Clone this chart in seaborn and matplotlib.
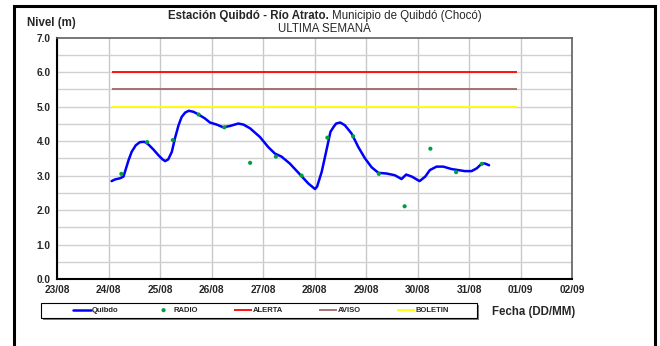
import pandas as pd
import matplotlib
matplotlib.use('Agg')
import matplotlib.pyplot as plt
import seaborn as sns
from matplotlib.patches import Rectangle

# dias contados desde 23/08 00:00
dia_quibdo = [1.06, 1.13, 1.22, 1.29, 1.33, 1.39, 1.45, 1.53, 1.61, 1.70, 1.77, 1.87,
              1.97, 2.05, 2.10, 2.16, 2.23, 2.29, 2.36, 2.42, 2.49, 2.56, 2.65, 2.74,
              2.87, 2.97, 3.10, 3.23, 3.36, 3.52, 3.62, 3.75, 3.94, 4.10, 4.23, 4.36,
              4.52, 4.72, 4.88, 5.01, 5.05, 5.14, 5.24, 5.31, 5.37, 5.42, 5.50, 5.59,
              5.72, 5.85, 5.98, 6.11, 6.24, 6.40, 6.56, 6.69, 6.78, 6.89, 7.04, 7.15,
              7.24, 7.37, 7.50, 7.66, 7.79, 7.92, 8.05, 8.15, 8.25, 8.31, 8.39]
nivel_quibdo = [2.84, 2.89, 2.92, 2.97, 3.16, 3.45, 3.69, 3.88, 3.97, 3.98, 3.91, 3.76,
                3.59, 3.47, 3.42, 3.47, 3.69, 4.08, 4.46, 4.70, 4.83, 4.88, 4.85, 4.78,
                4.66, 4.54, 4.48, 4.40, 4.44, 4.51, 4.48, 4.37, 4.12, 3.83, 3.64, 3.55,
                3.35, 3.03, 2.77, 2.61, 2.68, 3.11, 3.79, 4.27, 4.41, 4.51, 4.54, 4.46,
                4.22, 3.83, 3.50, 3.24, 3.08, 3.06, 3.01, 2.90, 3.03, 2.97, 2.84, 2.97,
                3.16, 3.26, 3.26, 3.19, 3.16, 3.13, 3.13, 3.21, 3.35, 3.35, 3.30]

dia_radio = [1.25, 1.75, 2.25, 2.75, 3.25, 3.75, 4.25, 4.75, 5.25, 5.75, 6.25, 6.75, 7.25, 7.75, 8.25]
nivel_radio = [3.05, 3.97, 4.03, 4.77, 4.40, 3.37, 3.55, 3.00, 4.10, 4.14, 3.05, 2.11, 3.78, 3.10, 3.34]

umbrales = ['ALERTA', 'AVISO', 'BOLETIN']
nivel_umbral = [6.0, 5.5, 5.0]
color_umbral = ['#FF0000', '#A06868', '#FFFF00']
umbral_desde, umbral_hasta = 1.07, 8.93

fechas = ['23/08', '24/08', '25/08', '26/08', '27/08', '28/08',
          '29/08', '30/08', '31/08', '01/09', '02/09']

sns.set_style('white')
plt.rcParams['font.family'] = ['Liberation Sans', 'DejaVu Sans']

W, H = 660, 346
fig = plt.figure(figsize=(6.6, 3.46), dpi=100)
ax = fig.add_axes([57 / W, 1 - 279 / H, (572 - 57) / W, (279 - 37.7) / H])

# cuadricula
for d in range(len(fechas)):
    ax.axvline(d, color='#C8C8C8', lw=1.0, zorder=0)
for v in [i * 0.5 for i in range(1, 14)]:
    ax.axhline(v, color='#D0D0D0', lw=1.0, zorder=0)

for nombre, nv, col in zip(umbrales, nivel_umbral, color_umbral):
    ax.hlines(nv, umbral_desde, umbral_hasta, color=col, lw=1.3, label=nombre, zorder=2)

df_q = pd.DataFrame({'dia': dia_quibdo, 'nivel': nivel_quibdo})
df_r = pd.DataFrame({'dia': dia_radio, 'nivel': nivel_radio})
sns.lineplot(data=df_q, x='dia', y='nivel', ax=ax, color='#0000FF', lw=1.8,
             label='Quibdo', zorder=3, solid_joinstyle='round', solid_capstyle='round')
sns.scatterplot(data=df_r, x='dia', y='nivel', ax=ax, color='#00A040', s=9,
                edgecolor='none', label='RADIO', zorder=4)

ax.set_xlim(0, 10)
ax.set_ylim(0, 7)
ax.set_xticks(range(len(fechas)))
ax.set_xticklabels(fechas)
ax.set_yticks(range(8))
ax.set_yticklabels([f'{v:.1f}' for v in range(8)])
ax.tick_params(axis='both', which='major', direction='out', length=3, width=1,
               color='black', labelsize=7.3, pad=1.5)
for lab in ax.get_xticklabels() + ax.get_yticklabels():
    lab.set_fontweight('bold')
ax.set_xlabel('')
ax.set_ylabel('')
for s in ['left', 'bottom']:
    ax.spines[s].set_color('black')
    ax.spines[s].set_linewidth(1.5)
for s in ['top', 'right']:
    ax.spines[s].set_color('#606060')
    ax.spines[s].set_linewidth(1.2)
ax.get_legend().remove()

# leyenda
h, l = ax.get_legend_handles_labels()
orden = ['Quibdo', 'RADIO', 'ALERTA', 'AVISO', 'BOLETIN']
hd = dict(zip(l, h))
fig.patches.append(Rectangle((43 / W, 1 - 320 / H), 436 / W, 15 / H,
                             transform=fig.transFigure, facecolor='#808080',
                             edgecolor='none', zorder=1))
fig.patches.append(Rectangle((41 / W, 1 - 318 / H), 436 / W, 15 / H,
                             transform=fig.transFigure, facecolor='white',
                             edgecolor='black', lw=0.8, zorder=2))
leg = fig.legend([hd[k] for k in orden], orden, loc='center',
                 bbox_to_anchor=(73 / W, 1 - 318 / H, 376 / W, 15 / H),
                 mode='expand', ncol=5, frameon=False, borderpad=0,
                 borderaxespad=0, handlelength=2.4, handletextpad=0.1,
                 prop={'size': 5.5, 'weight': 'bold'})
leg.set_zorder(3)

# textos
fig.text(329 / W, 1 - 16 / H, 'Estación Quibdó - Río Atrato.', ha='right', va='center',
         fontsize=8.3, fontweight='bold')
fig.text(332 / W, 1 - 16 / H, 'Municipio de Quibdó (Chocó)', ha='left', va='center',
         fontsize=8.3)
fig.text(324 / W, 1 - 28.5 / H, 'ULTIMA SEMANA', ha='center', va='center', fontsize=8.3)
fig.text(27 / W, 1 - 23 / H, 'Nivel (m)', ha='left', va='center', fontsize=8.3,
         fontweight='bold')
fig.text(492 / W, 1 - 312 / H, 'Fecha (DD/MM)', ha='left', va='center', fontsize=8.3,
         fontweight='bold')

# marco exterior
fig.patches.append(Rectangle((14 / W, -0.05), (655 - 14) / W, 1.05 - 6 / H,
                             transform=fig.transFigure, facecolor='none',
                             edgecolor='black', lw=2.2, zorder=5))

fig.savefig('out.png', dpi=100)
